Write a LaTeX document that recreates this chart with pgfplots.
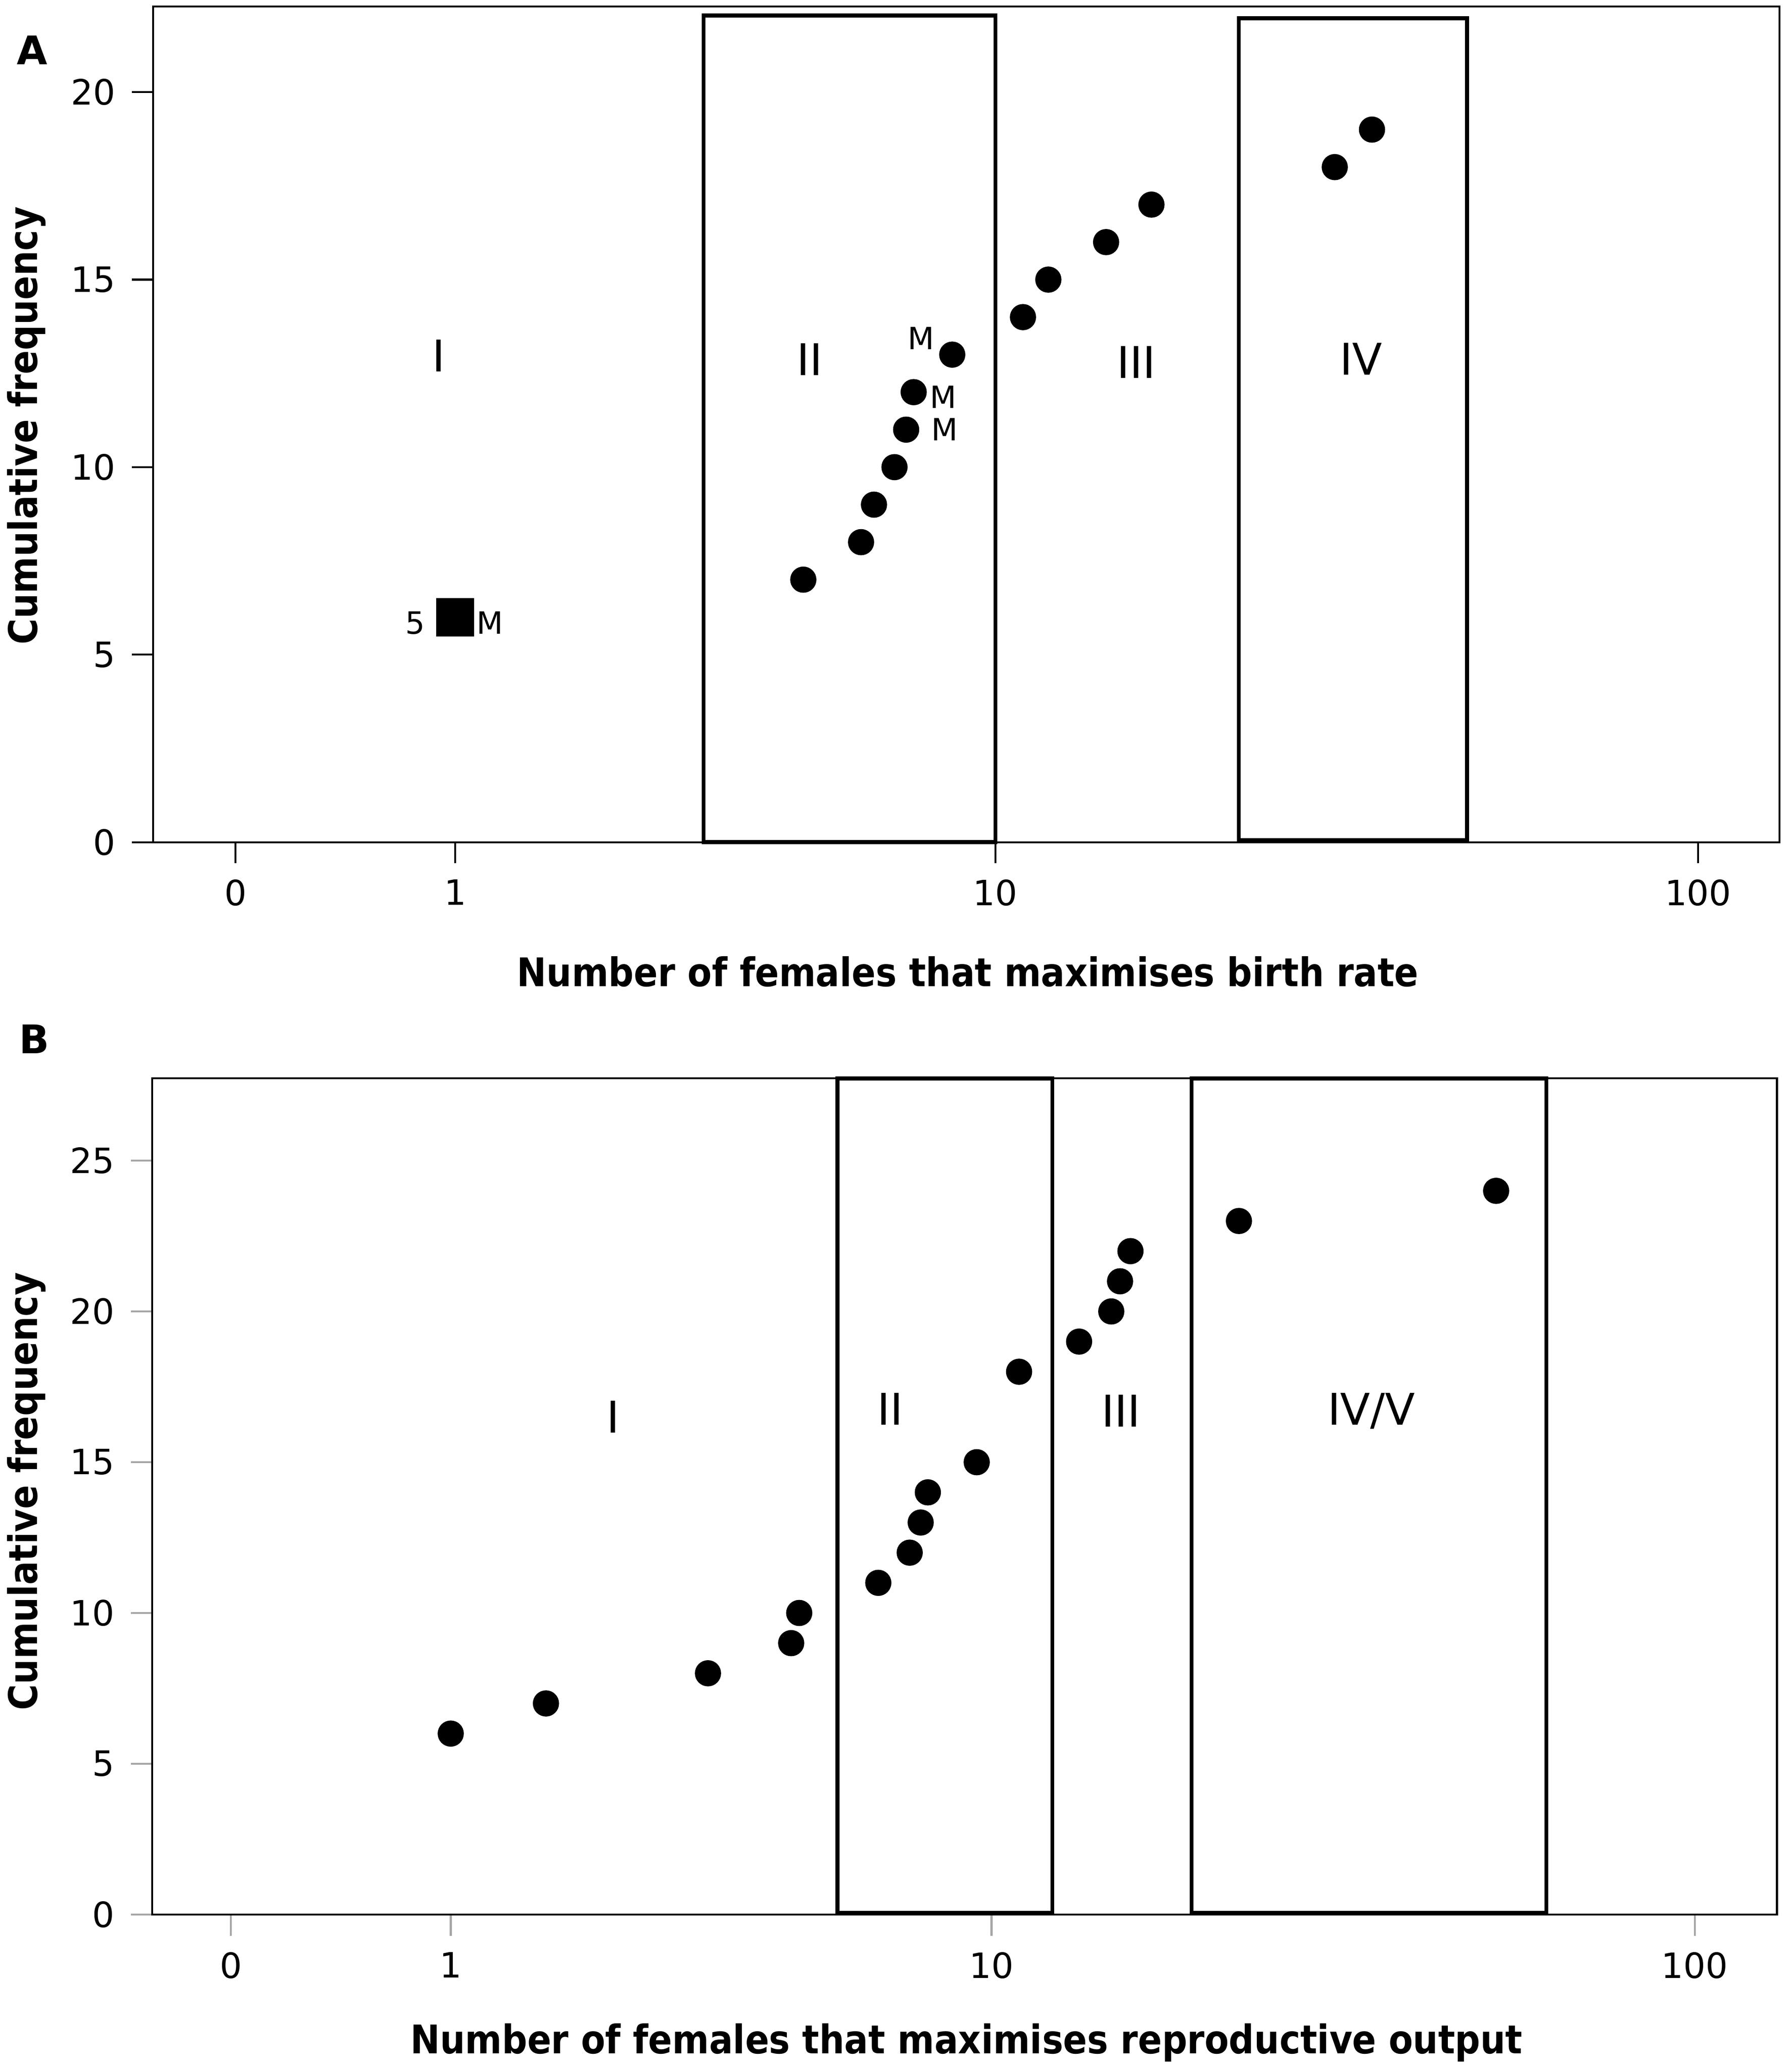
\documentclass[border=0pt]{standalone}
\usepackage{pgfplots}
\pgfplotsset{compat=1.18}
\usepackage{pgfplotstable}
\usepackage{fontspec}
\setmainfont{DejaVu Sans}
\newfontfamily\labfont[FakeStretch=0.895]{DejaVu Sans}

% x values in original units (number of females); plotted on a log10(x+1) scale
\pgfplotstableread{
n y
5.0 7
6.2 8
6.5 9
7.0 10
7.3 11
7.5 12
8.6 13
11.0 14
12.0 15
14.6 16
17.0 17
31.1 18
35.1 19
}\dataAcirc
\pgfplotstableread{
n y
1.0 6
}\dataAsq
\pgfplotstableread{
n y
1.0 6
1.7 7
3.5 8
4.85 9
5.0 10
6.7 11
7.5 12
7.8 13
8.0 14
9.5 15
11.0 18
13.5 19
15.05 20
15.5 21
16.05 22
23.0 23
53.0 24
}\dataB

\pgfplotsset{
  common/.style={
    scale only axis,
    anchor=south west,
    axis line style={line width=0.43pt},
    tick pos=left,
    tick align=outside,
    major tick length=0.16cm,
    xtick={0,0.30103,1.04139,2.00432},
    xticklabels={0,1,10,100},
    tick label style={font=\fontsize{7.5}{9}\selectfont},
    /pgf/number format/assume math mode=true,
    clip=false,
  },
}
\newcommand{\reg}{\fontsize{9.4}{11}\selectfont}
\newcommand{\mlab}{\fontsize{6.6}{8}\selectfont}
\newcommand{\alab}{\labfont\fontsize{8.5}{10}\selectfont\bfseries}

\begin{document}
\begin{tikzpicture}[x=1cm,y=1cm]
\useasboundingbox (0,0) rectangle (13.55,15.656);

% ---------------- Panel A ----------------
\begin{axis}[common,
  at={(1.158cm,9.286cm)},
  width=12.30cm, height=6.32cm,
  xmin=-0.1129, xmax=2.1158,
  ymin=0, ymax=22.28,
  ytick={0,5,10,15,20},
  tick style={black, line width=0.43pt},
]
\draw[line width=0.85pt] (axis cs:0.6415,0) rectangle (axis cs:1.0414,22.04);
\draw[line width=0.85pt] (axis cs:1.3750,0.05) rectangle (axis cs:1.6876,21.97);
\addplot[only marks, mark=square*, mark size=0.1375cm, black]
  table[x expr={ln(\thisrow{n}+1)/ln(10)}, y=y] {\dataAsq};
\addplot[only marks, mark=*, mark size=0.092cm, black]
  table[x expr={ln(\thisrow{n}+1)/ln(10)}, y=y] {\dataAcirc};
\node[font=\reg] at (axis cs:0.2784,12.97) {I};
\node[font=\reg] at (axis cs:0.787,12.87) {II};
\node[font=\reg] at (axis cs:1.2343,12.8) {III};
\node[font=\reg] at (axis cs:1.5424,12.88) {IV};
\node[font=\mlab] at (axis cs:0.9393,13.43) {M};
\node[font=\mlab] at (axis cs:0.9697,11.87) {M};
\node[font=\mlab] at (axis cs:0.9719,11.01) {M};
\node[font=\mlab] at (axis cs:0.2462,5.85) {5};
\node[font=\mlab] at (axis cs:0.3487,5.85) {M};
\end{axis}

% ---------------- Panel B ----------------
\begin{axis}[common,
  at={(1.150cm,1.176cm)},
  width=12.29cm, height=6.324cm,
  xmin=-0.108, xmax=2.117,
  ymin=0, ymax=27.73,
  ytick={0,5,10,15,20,25},
  tick style={gray!70, line width=0.43pt},
]
\draw[line width=0.85pt] (axis cs:0.8304,0.05) rectangle (axis cs:1.1246,27.73);
\draw[line width=0.85pt] (axis cs:1.3154,0.05) rectangle (axis cs:1.8011,27.73);
\addplot[only marks, mark=*, mark size=0.092cm, black]
  table[x expr={ln(\thisrow{n}+1)/ln(10)}, y=y] {\dataB};
\node[font=\reg] at (axis cs:0.5236,16.51) {I};
\node[font=\reg] at (axis cs:0.9025,16.77) {II};
\node[font=\reg] at (axis cs:1.2188,16.70) {III};
\node[font=\reg] at (axis cs:1.5614,16.70) {IV/V};
\end{axis}

% ---------------- Labels ----------------
\node[font=\alab] at (7.32,8.306) {Number of females that maximises birth rate};
\node[font=\alab, rotate=90] at (0.20,12.436) {Cumulative frequency};
\node[font=\alab] at (7.31,0.206) {Number of females that maximises reproductive output};
\node[font=\alab, rotate=90] at (0.20,4.376) {Cumulative frequency};
\node[font=\fontsize{8.5}{10}\selectfont\bfseries] at (0.245,15.276) {A};
\node[font=\fontsize{8.5}{10}\selectfont\bfseries] at (0.26,7.796) {B};
\end{tikzpicture}
\end{document}
